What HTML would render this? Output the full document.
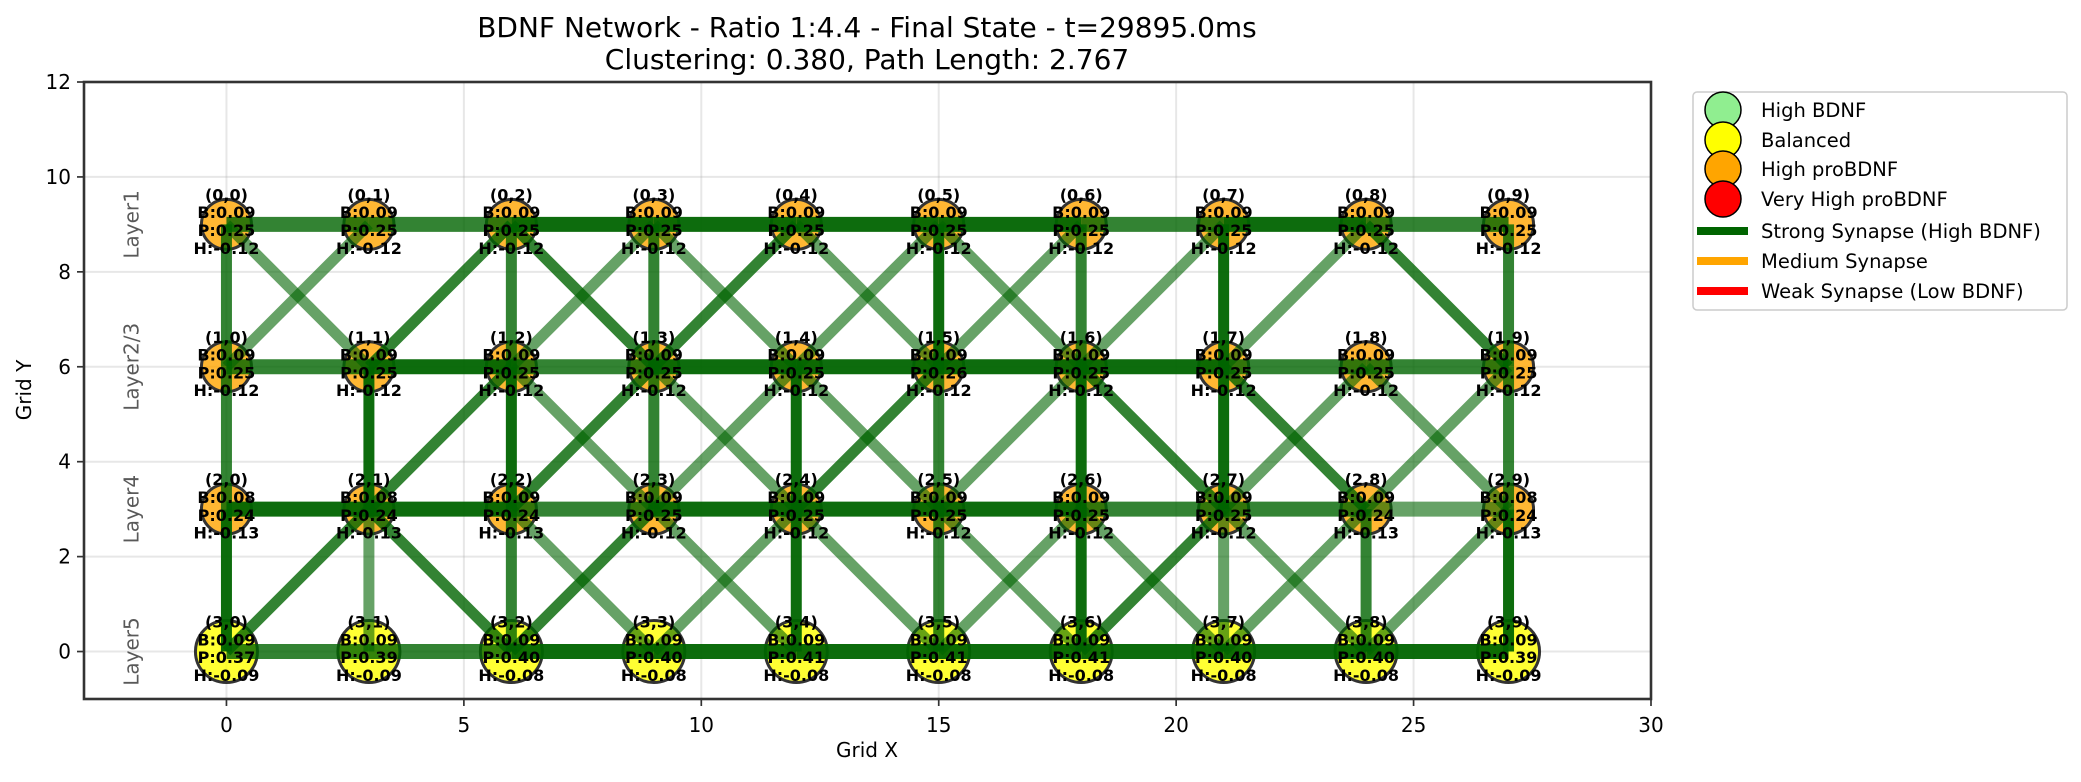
<!DOCTYPE html>
<html><head><meta charset="utf-8"><style>
html,body{margin:0;padding:0;background:#fff;}
svg text{font-family:"DejaVu Sans","Liberation Sans",sans-serif;}
</style></head><body>
<svg id="chart" width="2081" height="777" viewBox="0 0 2081 777" xmlns="http://www.w3.org/2000/svg">
<rect width="2081" height="777" fill="#fff"/>
<text x="867" y="37" font-size="28" text-anchor="middle">BDNF Network - Ratio 1:4.4 - Final State - t=29895.0ms</text>
<text x="867" y="69" font-size="28" text-anchor="middle">Clustering: 0.380, Path Length: 2.767</text>
<g id="grid"></g>
<g id="layerLabels"></g>
<g id="nodes"></g>
<g id="edges"></g>
<g id="labels"></g>
<rect x="84" y="82" width="1567" height="617" fill="none" stroke="#333" stroke-width="2.6"/>
<g id="axes"></g>
<text x="867" y="757" font-size="20" text-anchor="middle">Grid X</text>
<text x="0" y="0" font-size="20" text-anchor="middle" transform="translate(31,390) rotate(-90)">Grid Y</text>
<g>
<rect x="1693" y="92" width="374" height="218" rx="4" fill="#fff" fill-opacity="0.8" stroke="#ccc" stroke-width="1.5"/>
<g><circle cx="1723" cy="110" r="18" fill="#90EE90" stroke="#000" stroke-width="1.5"/><text x="1761" y="117" font-size="19.5">High BDNF</text></g>
<g><circle cx="1723" cy="140" r="18" fill="#FFFF00" stroke="#000" stroke-width="1.5"/><text x="1761" y="147" font-size="19.5">Balanced</text></g>
<g><circle cx="1723" cy="169" r="18" fill="#FFA500" stroke="#000" stroke-width="1.5"/><text x="1761" y="176" font-size="19.5">High proBDNF</text></g>
<g><circle cx="1723" cy="199" r="18" fill="#FF0000" stroke="#000" stroke-width="1.5"/><text x="1761" y="206" font-size="19.5">Very High proBDNF</text></g>
<g><line x1="1697" y1="231" x2="1748" y2="231" stroke="#006400" stroke-width="8"/><text x="1761" y="238" font-size="19.5">Strong Synapse (High BDNF)</text></g>
<g><line x1="1697" y1="261" x2="1748" y2="261" stroke="#FFA500" stroke-width="8"/><text x="1761" y="268" font-size="19.5">Medium Synapse</text></g>
<g><line x1="1697" y1="291" x2="1748" y2="291" stroke="#FF0000" stroke-width="8"/><text x="1761" y="298" font-size="19.5">Weak Synapse (Low BDNF)</text></g>
</g>
</svg>
<script>
// ---- data ----
const xTicks = [0, 5, 10, 15, 20, 25, 30];
const yTicks = [0, 2, 4, 6, 8, 10, 12];
const layerNames = ["Layer1", "Layer2/3", "Layer4", "Layer5"];
const layerY = [9, 6, 3, 0];
const colX = [0, 3, 6, 9, 12, 15, 18, 21, 24, 27];
const nodeB = [
  [0.09,0.09,0.09,0.09,0.09,0.09,0.09,0.09,0.09,0.09],
  [0.09,0.09,0.09,0.09,0.09,0.09,0.09,0.09,0.09,0.09],
  [0.08,0.08,0.09,0.09,0.09,0.09,0.09,0.09,0.09,0.08],
  [0.09,0.09,0.09,0.09,0.09,0.09,0.09,0.09,0.09,0.09]];
const nodeP = [
  [0.25,0.25,0.25,0.25,0.25,0.25,0.25,0.25,0.25,0.25],
  [0.25,0.25,0.25,0.25,0.25,0.26,0.25,0.25,0.25,0.25],
  [0.24,0.24,0.24,0.25,0.25,0.25,0.25,0.25,0.24,0.24],
  [0.37,0.39,0.40,0.40,0.41,0.41,0.41,0.40,0.40,0.39]];
const nodeH = [
  [-0.12,-0.12,-0.12,-0.12,-0.12,-0.12,-0.12,-0.12,-0.12,-0.12],
  [-0.12,-0.12,-0.12,-0.12,-0.12,-0.12,-0.12,-0.12,-0.12,-0.12],
  [-0.13,-0.13,-0.13,-0.12,-0.12,-0.12,-0.12,-0.12,-0.13,-0.13],
  [-0.09,-0.09,-0.08,-0.08,-0.08,-0.08,-0.08,-0.08,-0.08,-0.09]];
// edges: [r1,c1,r2,c2,weight]  weight: 0.95 strong, 0.8 medium, 0.6 light
const edges = [
  [0,0,0,1,0.8],[0,1,0,2,0.8],[0,2,0,3,0.95],[0,3,0,4,0.95],[0,4,0,5,0.95],[0,5,0,6,0.95],[0,6,0,7,0.8],[0,7,0,8,0.95],[0,8,0,9,0.8],
  [1,0,1,1,0.8],[1,1,1,2,0.95],[1,2,1,3,0.8],[1,3,1,4,0.95],[1,4,1,5,0.95],[1,5,1,6,0.95],[1,6,1,7,0.95],[1,7,1,8,0.8],[1,8,1,9,0.8],
  [2,0,2,1,0.95],[2,1,2,2,0.95],[2,2,2,3,0.8],[2,3,2,4,0.95],[2,4,2,5,0.95],[2,5,2,6,0.95],[2,6,2,7,0.8],[2,7,2,8,0.8],[2,8,2,9,0.6],
  [3,0,3,1,0.8],[3,1,3,2,0.8],[3,2,3,3,0.95],[3,3,3,4,0.95],[3,4,3,5,0.95],[3,5,3,6,0.95],[3,6,3,7,0.95],[3,7,3,8,0.95],[3,8,3,9,0.95],
  [0,0,1,0,0.8],[0,2,1,2,0.8],[0,3,1,3,0.8],[0,5,1,5,0.95],[0,6,1,6,0.8],[0,7,1,7,0.95],[0,9,1,9,0.8],
  [1,0,2,0,0.8],[1,1,2,1,0.95],[1,2,2,2,0.95],[1,3,2,3,0.8],[1,4,2,4,0.95],[1,5,2,5,0.8],[1,6,2,6,0.95],[1,7,2,7,0.95],[1,9,2,9,0.8],
  [2,0,3,0,0.95],[2,1,3,1,0.6],[2,2,3,2,0.8],[2,4,3,4,0.95],[2,5,3,5,0.8],[2,6,3,6,0.95],[2,7,3,7,0.6],[2,8,3,8,0.8],[2,9,3,9,0.95],
  [0,0,1,1,0.6],[0,1,1,0,0.6],[0,2,1,1,0.8],[0,2,1,3,0.8],[0,3,1,2,0.6],[0,3,1,4,0.6],[0,4,1,3,0.8],[0,4,1,5,0.6],[0,5,1,4,0.6],
  [0,5,1,6,0.6],[0,6,1,5,0.6],[0,7,1,6,0.6],[0,8,1,7,0.6],[0,8,1,9,0.8],
  [1,2,2,1,0.8],[1,2,2,3,0.6],[1,3,2,2,0.8],[1,3,2,4,0.6],[1,4,2,3,0.6],[1,4,2,5,0.6],[1,5,2,4,0.8],
  [1,6,2,5,0.6],[1,6,2,7,0.8],[1,7,2,8,0.8],[1,8,2,7,0.6],[1,8,2,9,0.6],[1,9,2,8,0.6],
  [2,1,3,0,0.8],[2,1,3,2,0.8],[2,2,3,3,0.6],[2,3,3,2,0.8],[2,3,3,4,0.6],[2,4,3,3,0.6],[2,4,3,5,0.6],
  [2,5,3,6,0.6],[2,6,3,5,0.6],[2,6,3,7,0.6],[2,7,3,6,0.8],[2,7,3,8,0.6],[2,8,3,7,0.6],[2,9,3,8,0.6]];

// ---- axes ----
const NS = "http://www.w3.org/2000/svg";
const X0 = 84, X1 = 1651, Y0 = 699, Y1 = 82;
const xMin = -3, xMax = 30, yMin = -1, yMax = 12;
function sx(v){ return X0 + (v - xMin) / (xMax - xMin) * (X1 - X0); }
function sy(v){ return Y0 - (v - yMin) / (yMax - yMin) * (Y0 - Y1); }
function mk(tag, attrs, parent){ const e = document.createElementNS(NS, tag); for (const k in attrs) e.setAttribute(k, attrs[k]); parent.appendChild(e); return e; }
const gGrid = document.getElementById('grid'), gAxes = document.getElementById('axes');
xTicks.forEach(t => {
  const gl = mk('line', {x1:sx(t), x2:sx(t), y1:Y1, y2:Y0, stroke:'#b0b0b0', 'stroke-opacity':0.3, 'stroke-width':2}, gGrid);
  
  
  const tk = mk('line', {x1:sx(t), x2:sx(t), y1:Y0, y2:Y0+7, stroke:'#333', 'stroke-width':1.7}, gAxes);
  
  
  const tl = mk('text', {x:sx(t), y:Y0+33, 'font-size':20, 'text-anchor':'middle'}, gAxes);
  tl.textContent = t;
  
  
});
yTicks.forEach(t => {
  const gl = mk('line', {x1:X0, x2:X1, y1:sy(t), y2:sy(t), stroke:'#b0b0b0', 'stroke-opacity':0.3, 'stroke-width':2}, gGrid);
  
  
  const tk = mk('line', {x1:X0-7, x2:X0, y1:sy(t), y2:sy(t), stroke:'#333', 'stroke-width':1.7}, gAxes);
  
  
  const tl = mk('text', {x:X0-13, y:sy(t)+7, 'font-size':20, 'text-anchor':'end'}, gAxes);
  tl.textContent = t;
  
  
});
const gLayer = document.getElementById('layerLabels');
layerNames.forEach((n, i) => {
  const t = mk('text', {x:0, y:0, 'font-size':20, 'text-anchor':'middle', fill:'#000', 'fill-opacity':0.65,
    transform:'translate(' + (sx(-2) + 7) + ',' + sy(layerY[i]) + ') rotate(-90)'}, gLayer);
  t.textContent = n;
  
  
});
// nodes
const gNodes = document.getElementById('nodes'), gLabels = document.getElementById('labels');
for (let r = 0; r < 4; r++) for (let c = 0; c < 10; c++) {
  const p = nodeP[r][c];
  const balanced = p > 0.3;
  const cx = sx(colX[c]), cy = sy(layerY[r]);
  const circ = mk('circle', {cx:cx, cy:cy, r: balanced ? 31 : 25, fill: balanced ? '#FFFF00' : '#FFA500', 'fill-opacity':0.8, stroke:'#333', 'stroke-width':3}, gNodes);
  
  
  const lines = ['(' + r + ',' + c + ')', 'B:' + nodeB[r][c].toFixed(2), 'P:' + p.toFixed(2), 'H:' + nodeH[r][c].toFixed(2)];
  const t = mk('text', {x:cx, y:cy, 'font-size':16, 'font-weight':'bold', 'text-anchor':'middle'}, gLabels);
  
  
  lines.forEach((s, i) => {
    const ts = mk('tspan', {x:cx, y: cy - 24 + i * 17.8}, t);
    ts.textContent = s;
  });
}
// edges
const gEdges = document.getElementById('edges');
edges.forEach(e => {
  const [r1, c1, r2, c2, w] = e;
  const horiz = r1 === r2;
  const ln = mk('line', {x1:sx(colX[c1]), y1:sy(layerY[r1]), x2:sx(colX[c2]), y2:sy(layerY[r2]),
    stroke:'#006400', 'stroke-opacity': w, 'stroke-width': horiz ? 15 : 11}, gEdges);
  
  
});
</script>
</body></html>
